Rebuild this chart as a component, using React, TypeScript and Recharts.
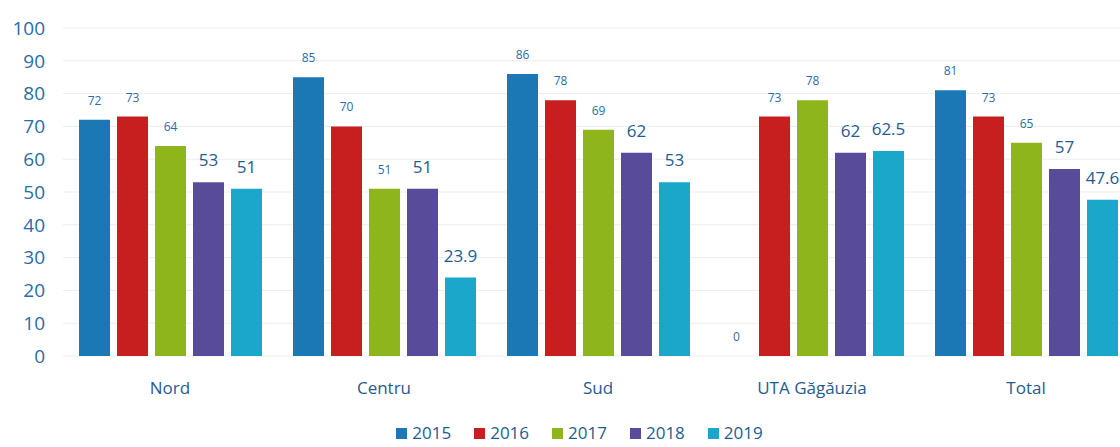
import React from "react";
import { BarChart, Bar, XAxis, YAxis, CartesianGrid, Legend } from "recharts";

const regions = ["Nord", "Centru", "Sud", "UTA Găgăuzia", "Total"];
const years = ["2015", "2016", "2017", "2018", "2019"];
const v2015 = [72, 85, 86, 0, 81];
const v2016 = [73, 70, 78, 73, 73];
const v2017 = [64, 51, 69, 78, 65];
const v2018 = [53, 51, 62, 62, 57];
const v2019 = [51, 23.9, 53, 62.5, 47.6];
const yTicks = [0, 10, 20, 30, 40, 50, 60, 70, 80, 90, 100];

const seriesValues = [v2015, v2016, v2017, v2018, v2019];
const colors = ["#1b78b5", "#c71f1f", "#8fb51c", "#584c9a", "#1aa7c9"];
// series whose data labels use the larger font
const bigSeries = [false, false, false, true, true];

const data = regions.map((r, i) => {
  const row: Record<string, any> = { name: r };
  years.forEach((y, s) => {
    row[y] = seriesValues[s][i];
  });
  return row;
});

const FONT = "'Open Sans', 'Noto Sans', sans-serif";

const makeLabel = (s: number) => (props: any) => {
  const { x, y, width, height, value } = props;
  const isBig = bigSeries[s];
  const top = Math.min(Number(y), Number(y) + Number(height || 0));
  return (
    <text
      x={Number(x) + Number(width) / 2}
      y={top - (isBig ? 16 : 15)}
      textAnchor="middle"
      fill={isBig ? "#1f5c91" : "#2b6ca6"}
      fontSize={isBig ? 17 : 12}
      fontFamily={FONT}
    >
      {value}
    </text>
  );
};

const renderLegend = () => (
  <div
    style={{
      display: "flex",
      justifyContent: "center",
      paddingLeft: 26,
      paddingTop: 7,
      fontFamily: FONT,
      fontSize: 17,
      color: "#1f5c91",
      lineHeight: "20px",
    }}
  >
    {years.map((y, i) => (
      <div key={y} style={{ display: "flex", alignItems: "center", marginRight: i < 4 ? 23 : 0 }}>
        <span style={{ display: "inline-block", width: 11, height: 11, background: colors[i], marginRight: 5 }} />
        <span>{y}</span>
      </div>
    ))}
  </div>
);

export default function App() {
  return (
    <div style={{ position: "absolute", left: 0, top: 0, width: 1120, height: 447, overflow: "hidden", background: "#fff" }}>
      <BarChart
        width={1133}
        height={447}
        data={data}
        margin={{ top: 28, right: 0, bottom: 0, left: 0 }}
        barSize={31}
        barGap={7}
      >
        <CartesianGrid vertical={false} stroke="#e9edf1" />
        <XAxis
          dataKey="name"
          height={60}
          axisLine={false}
          tickLine={false}
          tickSize={0}
          tickMargin={26}
          tick={{ fill: "#1f5c91", fontSize: 17, fontFamily: FONT }}
          interval={0}
        />
        <YAxis
          width={63}
          domain={[0, 100]}
          ticks={yTicks}
          axisLine={false}
          tickLine={false}
          tickSize={0}
          tickMargin={18}
          tick={{ fill: "#2b6ca6", fontSize: 19, fontFamily: FONT }}
        />
        <Legend verticalAlign="bottom" height={31} content={renderLegend} />
        {years.map((y, s) => (
          <Bar
            key={y}
            dataKey={y}
            fill={colors[s]}
            isAnimationActive={false}
            minPointSize={0.01}
            label={makeLabel(s)}
          />
        ))}
      </BarChart>
    </div>
  );
}
